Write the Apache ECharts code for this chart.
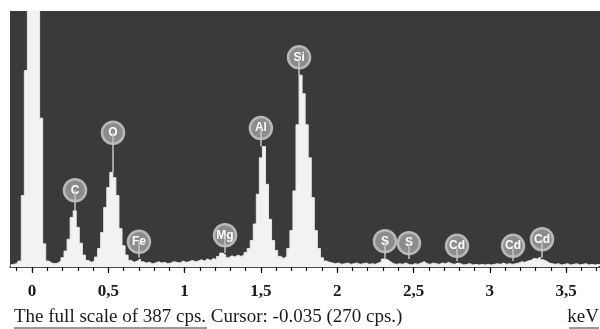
<!DOCTYPE html>
<html>
<head>
<meta charset="utf-8">
<script src="https://cdn.jsdelivr.net/npm/echarts@6/dist/echarts.min.js"></script>
<style>
  html, body { margin: 0; padding: 0; background: #fff; }
  #chart { width: 600px; height: 329px; }
</style>
</head>
<body>
<div id="chart"></div>
<script>
// channel scale of the spectrum (keV)
var startEnergy = -0.14;
var channelWidth = 0.02;

// counts per channel (cps), one row = 0.2 keV
var counts = [
    3, 4, 5, 9, 108, 297, 420, 420, 420, 420,
    225, 35, 9, 6, 5, 6, 9, 14, 24, 42,
    75, 85, 60, 36, 18, 10, 7, 9, 15, 28,
    52, 90, 120, 143, 135, 108, 58, 32, 18, 10,
    7, 9, 12, 8, 6, 7, 5, 6, 8, 6,
    7, 5, 6, 8, 7, 6, 9, 7, 8, 10,
    8, 9, 11, 9, 12, 10, 13, 11, 16, 21,
    18, 14, 17, 15, 18, 16, 18, 22, 28, 40,
    65, 110, 165, 182, 125, 72, 40, 25, 16, 13,
    16, 28, 55, 115, 215, 290, 262, 215, 165, 105,
    55, 28, 14, 9, 7, 6, 5, 6, 4, 5,
    6, 4, 5, 6, 4, 5, 6, 4, 5, 4,
    6, 8, 12, 11, 8, 5, 4, 5, 4, 6,
    4, 3, 5, 4, 6, 8, 5, 4, 6, 5,
    4, 6, 5, 7, 5, 4, 6, 5, 3, 4,
    5, 3, 4, 3, 4, 3, 4, 3, 4, 5,
    4, 6, 4, 5, 4, 5, 6, 8, 7, 9,
    10, 13, 12, 15, 11, 9, 6, 5, 4, 5,
    3, 4, 5, 3, 4, 5, 3, 4, 5, 3,
    4, 3, 4, 3, 4
];

// element markers: energy, foot of the stem and badge centre (cps)
var markNames = ['C', 'O', 'Fe', 'Mg', 'Al', 'Si', 'S', 'S', 'Cd', 'Cd', 'Cd'];
var markEnergy = [0.282, 0.531, 0.701, 1.265, 1.50, 1.75, 2.313, 2.47, 2.785, 3.152, 3.342];
var markFoot = [86, 143, 14, 21, 182, 290, 12, 12, 9, 9, 14];
var markTop = [116, 203, 38, 48, 210, 317, 39, 36, 32, 32, 42];

var minorTicks = [];
for (var t = -1; t <= 37; t++) minorTicks.push(t / 10);
var majorTicks = [0, 0.5, 1, 1.5, 2, 2.5, 3, 3.5];

var spectrum = counts.map(function (c, i) {
    return [+(startEnergy + i * channelWidth).toFixed(2), c];
});

var stems = markEnergy.map(function (e, i) {
    return [{ coord: [e, markFoot[i]] }, { coord: [e, markTop[i]] }];
});

var badges = markEnergy.map(function (e, i) {
    return { value: [e, markTop[i]], name: markNames[i] };
});

var chart = echarts.init(document.getElementById('chart'));

var xMin = -0.144, xMax = 3.722;

chart.setOption({
    animation: false,
    grid: {
        left: 10, right: 0, top: 11, bottom: 62,
        show: true,
        backgroundColor: '#3a3a3a',
        borderWidth: 0
    },
    xAxis: [
        {
            type: 'value',
            min: xMin, max: xMax,
            splitLine: { show: false },
            axisLine: { lineStyle: { color: '#111', width: 1.5 } },
            axisTick: { customValues: minorTicks, length: 4, lineStyle: { color: '#111', width: 1.2 } },
            axisLabel: { show: false }
        },
        {
            type: 'value',
            position: 'bottom',
            min: xMin, max: xMax,
            splitLine: { show: false },
            axisLine: { show: false },
            axisTick: { customValues: majorTicks, length: 6, lineStyle: { color: '#111', width: 1.2 } },
            axisLabel: {
                customValues: majorTicks,
                margin: 16,
                color: '#1a1a1a',
                fontFamily: 'Liberation Serif',
                fontWeight: 'bold',
                fontSize: 17,
                formatter: function (v) { return String(v).replace('.', ','); }
            }
        }
    ],
    yAxis: { type: 'value', min: 0, max: 387, show: false, splitLine: { show: false } },
    series: [
        {
            type: 'line',
            step: 'middle',
            data: spectrum,
            symbol: 'none',
            clip: true,
            lineStyle: { color: '#e6e6e6', width: 1 },
            areaStyle: { color: '#f2f2f2', opacity: 1 },
            markLine: {
                silent: true,
                symbol: ['none', 'none'],
                label: { show: false },
                lineStyle: { color: '#c4c4c4', width: 1.5, type: 'solid' },
                data: stems
            },
            z: 2
        },
        {
            type: 'scatter',
            data: badges,
            symbol: 'circle',
            symbolSize: 22,
            itemStyle: { color: '#8c8c8c', borderColor: '#b8b8b8', borderWidth: 2.5, opacity: 1 },
            label: {
                show: true,
                position: 'inside',
                formatter: '{b}',
                color: '#fff',
                fontFamily: 'Liberation Sans',
                fontWeight: 'bold',
                fontSize: 12
            },
            z: 3
        }
    ],
    graphic: [
        {
            type: 'text', left: 14, top: 308,
            style: {
                text: 'The full scale of 387 cps. Cursor: -0.035 (270 cps.)',
                font: '19px "Liberation Serif"', fill: '#1a1a1a'
            }
        },
        { type: 'line', shape: { x1: 14, y1: 328, x2: 207, y2: 328 }, style: { stroke: '#333', lineWidth: 1 } },
        {
            type: 'text', right: 1, top: 308,
            style: { text: 'keV', font: '19px "Liberation Serif"', fill: '#1a1a1a' }
        },
        { type: 'line', shape: { x1: 569, y1: 328, x2: 599, y2: 328 }, style: { stroke: '#333', lineWidth: 1 } }
    ]
});
</script>
</body>
</html>
